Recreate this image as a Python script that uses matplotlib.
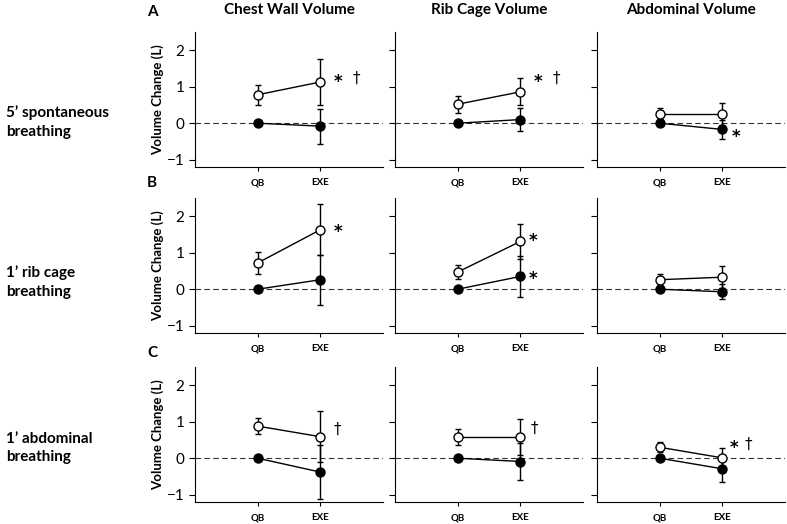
import numpy as np
import matplotlib.pyplot as plt

#________________Dados___________________
conds = ['QB', 'EXE']
cols = ['Chest Wall Volume', 'Rib Cage Volume', 'Abdominal Volume']
rows = ['5\u2019 spontaneous\nbreathing', '1\u2019 rib cage\nbreathing', '1\u2019 abdominal\nbreathing']
letters = ['A', 'B', 'C']

# open circles (mean, sd) per row -> per column -> [QB, EXE]
open_mean = [[[0.78, 1.13], [0.52, 0.86], [0.26, 0.26]],
             [[0.72, 1.63], [0.47, 1.31], [0.26, 0.33]],
             [[0.88, 0.59], [0.58, 0.58], [0.30, 0.01]]]
open_sd = [[[0.28, 0.63], [0.23, 0.37], [0.15, 0.30]],
           [[0.29, 0.70], [0.20, 0.48], [0.17, 0.31]],
           [[0.21, 0.70], [0.23, 0.50], [0.14, 0.28]]]
# filled circles
fill_mean = [[[0.0, -0.08], [0.0, 0.10], [0.0, -0.17]],
             [[0.0, 0.26], [0.0, 0.35], [0.0, -0.07]],
             [[0.0, -0.38], [0.0, -0.09], [0.0, -0.29]]]
fill_sd = [[[0.0, 0.48], [0.0, 0.32], [0.0, 0.27]],
           [[0.0, 0.68], [0.0, 0.55], [0.0, 0.20]],
           [[0.0, 0.73], [0.0, 0.51], [0.0, 0.36]]]

# significance marks: (row, col, text, x, y)
marks = [(0, 0, '*', 2.28, 1.22), (0, 0, '\u2020', 2.58, 1.22),
         (0, 1, '*', 2.28, 1.22), (0, 1, '\u2020', 2.57, 1.22),
         (0, 2, '*', 2.22, -0.30),
         (1, 0, '*', 2.28, 1.65),
         (1, 1, '*', 2.20, 1.40), (1, 1, '*', 2.20, 0.37),
         (2, 0, '\u2020', 2.27, 0.80),
         (2, 1, '\u2020', 2.23, 0.83),
         (2, 2, '*', 2.19, 0.35), (2, 2, '\u2020', 2.42, 0.38)]

#________________Figura___________________
plt.rcParams['font.family'] = ['Lato', 'DejaVu Sans']
fig = plt.figure(figsize=(7.87, 5.24), dpi=100)

lefts = [195 / 787, 395 / 787, 597 / 787]
bottoms = [1 - 167 / 524, 1 - 333 / 524, 1 - 502 / 524]
w = 188 / 787
h = 135 / 524
x = np.array([1, 2])

axes = {}
for r in range(3):
    for c in range(3):
        ax = fig.add_axes([lefts[c], bottoms[r], w, h])
        axes[(r, c)] = ax
        ax.axhline(0, color='#333333', ls=(0, (5, 3)), lw=0.8, zorder=1)
        ax.errorbar(x, fill_mean[r][c], yerr=fill_sd[r][c], fmt='-o', color='black',
                    mfc='black', mec='black', ms=6.5, lw=1, elinewidth=1,
                    capsize=2.5, capthick=1, zorder=3)
        ax.errorbar(x, open_mean[r][c], yerr=open_sd[r][c], fmt='-o', color='black',
                    mfc='white', mec='black', ms=6.5, lw=1, elinewidth=1,
                    capsize=2.5, capthick=1, zorder=4)
        ax.set_xlim(0, 3)
        ax.set_ylim(-1.2, 2.5)
        ax.set_yticks([-1, 0, 1, 2])
        ax.set_xticks(x)
        ax.set_xticklabels(conds, fontsize=7, fontweight='bold')
        ax.tick_params(axis='x', length=3, pad=5)
        ax.tick_params(axis='y', length=4, labelsize=11)
        for s in ['top', 'right']:
            ax.spines[s].set_visible(False)
        if c == 0:
            ax.set_ylabel('Volume Change (L)', fontsize=9.5, fontweight='bold', labelpad=2)
        else:
            ax.set_yticklabels([])

for (r, c, t, tx, ty) in marks:
    if t == '*':
        axes[(r, c)].text(tx, ty - 0.08, t, fontsize=12, fontweight='bold', va='center',
                          ha='center', family='DejaVu Sans')
    else:
        axes[(r, c)].text(tx, ty, t, fontsize=11, va='center', ha='center',
                          family='DejaVu Sans')

for c in range(3):
    fig.text(lefts[c] + w / 2, 1 - 10 / 524, cols[c], fontsize=11, fontweight='bold',
             ha='center', va='center')

row_y = [122, 282, 448]
let_y = [12, 183, 353]
for r in range(3):
    fig.text(6 / 787, 1 - row_y[r] / 524, rows[r], fontsize=11, fontweight='bold',
             ha='left', va='center', linespacing=1.4)
    fig.text(152 / 787, 1 - let_y[r] / 524, letters[r], fontsize=11, fontweight='bold',
             ha='center', va='center')

fig.savefig('out.png', dpi=100)
